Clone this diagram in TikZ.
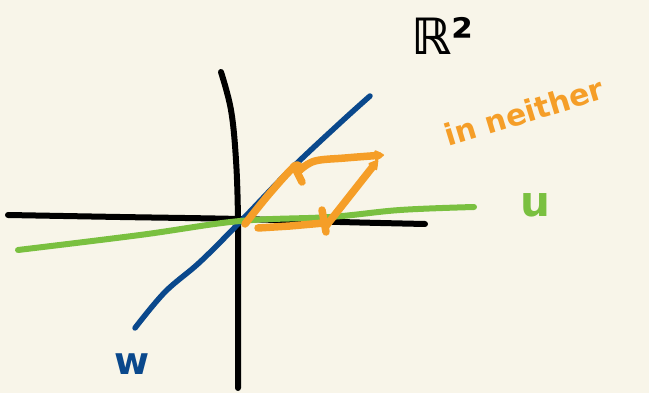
\documentclass[tikz,border=0pt]{standalone}
\usepackage{fontspec}
\setmainfont{DejaVu Sans}
\usetikzlibrary{arrows.meta}
\definecolor{bg}{RGB}{248,245,233}
\definecolor{axisblack}{RGB}{0,0,0}
\definecolor{wblue}{RGB}{10,72,140}
\definecolor{ugreen}{RGB}{122,192,64}
\definecolor{vorange}{RGB}{245,158,40}
\tikzset{
  pen/.style={line width=6pt, line cap=round, line join=round},
  axisline/.style={pen, draw=axisblack},
  wline/.style={pen, line width=5.5pt, draw=wblue},
  uline/.style={pen, draw=ugreen},
  vline/.style={pen, line width=7.5pt, draw=vorange},
  vtip/.style={vline, -{Stealth[length=12pt,width=14pt,round]}},
  lab/.style={font=\bfseries, inner sep=0pt}
}
\begin{document}
\begin{tikzpicture}[x=1pt,y=-1pt]
\fill[bg] (0,0) rectangle (649,393);
\useasboundingbox (0,0) rectangle (649,393);
% axes
\draw[axisline] plot[smooth, tension=0.6] coordinates {(8,215) (120,217) (240,219) (340,222) (425,224)};
\draw[axisline] plot[smooth, tension=0.6] coordinates {(221,72) (231,110) (236,160) (238,220) (238,300) (238,388)};
% subspace w
\draw[wline] plot[smooth, tension=0.6] coordinates {(135,328) (165,292) (200,262) (240,222) (290,170) (340,123) (370,96)};
% subspace u
\draw[uline] plot[smooth, tension=0.6] coordinates {(18,250) (140,235) (240,221) (330,217) (400,210) (474,207)};
% orange vectors
\draw[vline] plot[smooth, tension=0.6] coordinates {(245,224) (270,193) (295,166) (300,170)};
\draw[vline] (294,166) -- (302,182);
\draw[vtip] plot[smooth, tension=0.6] coordinates {(300,170) (315,161) (345,158) (384,155)};
\draw[vline] (258,228) -- (290,226) -- (324,223);
\draw[vline] (322,210) -- (326,232);
\draw[vtip] (326,226) -- (378,160);
% labels
\node[lab, font=\bfseries\fontsize{50}{50}\selectfont] (R2) at (442,36) {ℝ²};
\node[lab, text=vorange, font=\bfseries\fontsize{30}{30}\selectfont, rotate=17] (neither) at (524,112) {in neither};
\node[lab, text=ugreen, font=\bfseries\fontsize{42}{42}\selectfont] (u) at (535,205) {u};
\node[lab, text=wblue, font=\bfseries\fontsize{38}{38}\selectfont] (w) at (132,364) {w};
\end{tikzpicture}
\end{document}
